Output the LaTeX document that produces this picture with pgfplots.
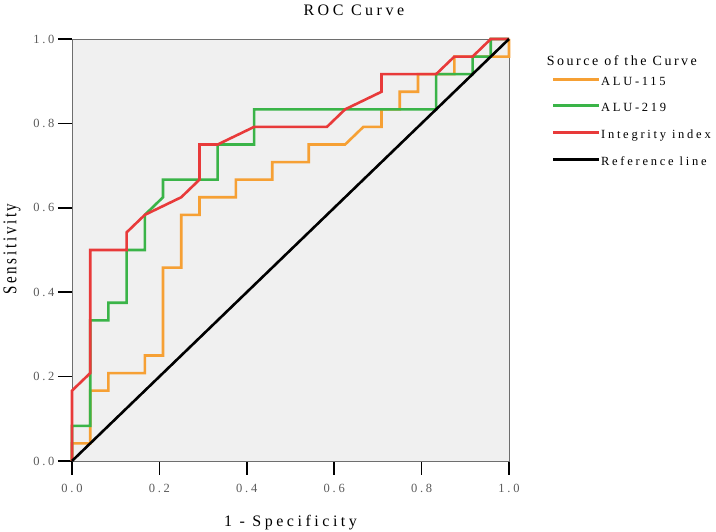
\documentclass[border=0pt]{standalone}
\usepackage{fontspec}
\usepackage{pgfplots}
\pgfplotsset{compat=1.18}
\setmainfont{Liberation Serif}
\newfontfamily\spaced[LetterSpace=22]{Liberation Serif}
\newfontfamily\spacedb[LetterSpace=18]{Liberation Serif}
\definecolor{cOrange}{RGB}{246,160,52}
\definecolor{cGreen}{RGB}{58,180,72}
\definecolor{cRed}{RGB}{232,58,58}
\definecolor{bgc}{RGB}{240,240,240}
\definecolor{frame}{RGB}{110,110,110}
\definecolor{tickgray}{RGB}{90,90,90}
\begin{document}
\begin{tikzpicture}
\useasboundingbox (-72pt,-71pt) rectangle (644pt,461pt);
\begin{axis}[
  at={(0pt,0pt)}, anchor=south west,
  scale only axis, width=437pt, height=422pt,
  xmin=0, xmax=1, ymin=0, ymax=1,
  axis background/.style={fill=bgc},
  axis line style={draw=frame, line width=0.8pt},
  xtick={0,0.2,0.4,0.6,0.8,1}, ytick={0,0.2,0.4,0.6,0.8,1},
  xtick pos=bottom, ytick pos=left,
  tick align=outside, major tick length=14pt,
  tick style={black, line width=1.6pt},
  /pgf/number format/.cd, fixed, fixed zerofill, precision=1, assume math mode=true,
  /pgfplots/.cd,
  tick label style={font=\fontsize{12.5}{14}\selectfont\spaced, text=tickgray},
  xticklabel style={yshift=-6pt},
  yticklabel style={xshift=0pt},
  legend style={at={(axis description cs:1.0977,0.910)}, anchor=north west,
    draw=none, fill=none, font=\fontsize{12.5}{14}\selectfont\spaced,
    row sep=16.7pt, column sep=0pt, inner sep=0pt,
    nodes={inner sep=0pt, text height=8pt, text depth=2pt}},
  legend cell align=left,
  legend image code/.code={\draw[#1, line width=3.2pt] (0pt,3pt) -- (46pt,3pt);},
  clip=false,
]
\addplot[cOrange, line width=2.6pt] coordinates {
(0,0) (0,0.0417) (0.0417,0.0417) (0.0417,0.1667) (0.0833,0.1667) (0.0833,0.2083)
(0.1667,0.2083) (0.1667,0.25) (0.2083,0.25) (0.2083,0.4583) (0.25,0.4583) (0.25,0.5833)
(0.2917,0.5833) (0.2917,0.625) (0.375,0.625) (0.375,0.6667) (0.4583,0.6667) (0.4583,0.7083)
(0.5417,0.7083) (0.5417,0.75) (0.625,0.75) (0.6667,0.7917) (0.7083,0.7917) (0.7083,0.8333)
(0.75,0.8333) (0.75,0.875) (0.7917,0.875) (0.7917,0.9167) (0.875,0.9167) (0.875,0.9583)
(1,0.9583) (1,1)};
\addlegendentry{ALU-115}
\addplot[cGreen, line width=2.6pt] coordinates {
(0,0) (0,0.0833) (0.0417,0.0833) (0.0417,0.3333) (0.0833,0.3333) (0.0833,0.375)
(0.125,0.375) (0.125,0.5) (0.1667,0.5) (0.1667,0.5833) (0.2083,0.625) (0.2083,0.6667)
(0.3333,0.6667) (0.3333,0.75) (0.4167,0.75) (0.4167,0.8333) (0.8333,0.8333) (0.8333,0.9167)
(0.9167,0.9167) (0.9167,0.9583) (0.9583,0.9583) (0.9583,1) (1,1)};
\addlegendentry{ALU-219}
\addplot[cRed, line width=2.6pt] coordinates {
(0,0) (0,0.1667) (0.0417,0.2083) (0.0417,0.5) (0.125,0.5) (0.125,0.5417) (0.1667,0.5833)
(0.25,0.625) (0.2917,0.6667) (0.2917,0.75) (0.3333,0.75) (0.4167,0.7917) (0.5833,0.7917)
(0.625,0.8333) (0.7083,0.875) (0.7083,0.9167) (0.8333,0.9167) (0.875,0.9583) (0.9167,0.9583)
(0.9583,1) (1,1)};
\addlegendentry{Integrity index}
\addplot[black, line width=2.6pt] coordinates {(0,0) (1,1)};
\addlegendentry{Reference line}
\node[anchor=west, inner sep=0pt, font=\fontsize{14}{16}\selectfont\spacedb] at (axis description cs:1.086,0.948) {Source of the Curve};
\node[inner sep=0pt, font=\fontsize{16}{18}\selectfont\spaced] at (axis description cs:0.645,1.069) {ROC Curve};
\node[inner sep=0pt, font=\fontsize{16}{18}\selectfont\spaced] at (axis description cs:0.5,-0.147) {1 - Specificity};
\node[inner sep=0pt, rotate=90, font=\fontsize{15}{17}\selectfont\spacedb] at (axis description cs:-0.137,0.502) {\scalebox{1}[1.3]{Sensitivity}};
\end{axis}
\end{tikzpicture}
\end{document}
